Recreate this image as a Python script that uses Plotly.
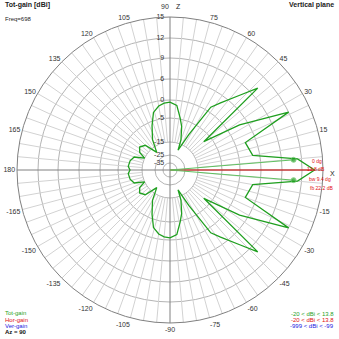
import numpy as np
import plotly.graph_objects as go

# ---- data (vertical-plane total gain, dBi); pattern symmetric about the horizon ----
ang_up = [0, 5, 10, 20, 26, 33, 40, 43, 47, 53, 57, 62, 68, 70, 75, 79, 84, 90, 95, 100,
          106, 112, 120, 127, 135, 143, 150, 155, 160, 167, 175, 180]
gain_up = [13.8, 11.4, 4.0, 2.9, 12.0, 3.7, -8.3, 10.2, 7.6, 4.0, 1.4, -10.0, -20.0, -13.3,
           -7.9, -4.7, -1.4, -0.6, -0.8, -1.4, -2.8, -6.7, -12.1, -19.6, -12.1, -10.8,
           -12.1, -15.0, -10.8, -9.6, -9.2, -10.0]

max_angle = 0
max_gain = 13.8
bw_angles = [4.7, -4.7]
bw_gain = [10.8, 10.8]

ring_db = [-35, -25, -15, -5, 0, 6, 9, 12, 15]
ring_labels = ["-35", "-25", "-15", "-5", "0", "6", "9", "12", "15"]
angle_ticks = list(range(0, 360, 15))
angle_labels = ["" if a in (0, 90) else str(a if a <= 180 else a - 360) for a in angle_ticks]

# ---- radial scale (4NEC2-like compressed dB scale) ----
ring_pos = [7, 15, 28, 52, 70, 91, 112, 132, 153]
R = ring_pos[-1]

def rscale(db):
    return np.interp(np.asarray(db, float), ring_db, ring_pos)

theta = ang_up + [360 - a for a in ang_up[::-1][1:]]
gain = gain_up + gain_up[::-1][1:]

GREEN = "#1f9f1f"
RED = "#e01010"
BLUE = "#2020e0"

fig = go.Figure()

# radial grid spokes every 5 deg
sp_t, sp_r = [], []
for a in range(0, 360, 5):
    if a % 90 == 0:
        continue
    sp_t += [a, a, None]
    sp_r += [ring_pos[2], R, None]
fig.add_trace(go.Scatterpolar(r=sp_r, theta=sp_t, mode="lines",
                              line=dict(color="#d2d2d2", width=1), hoverinfo="skip"))
# main axes
fig.add_trace(go.Scatterpolar(r=[R, 0, R, None, R, 0, R], theta=[0, 0, 180, None, 90, 90, 270],
                              mode="lines", line=dict(color="#808080", width=1), hoverinfo="skip"))

# radial (dB) ring labels along the vertical axis
pad = "\u00a0\u00a0\u00a0"
fig.add_trace(go.Scatterpolar(r=ring_pos, theta=[90] * len(ring_pos), mode="text",
                              text=[t + pad for t in ring_labels], textposition="middle left",
                              textfont=dict(size=7, color="#333"), hoverinfo="skip"))

# pattern
fig.add_trace(go.Scatterpolar(r=rscale(gain), theta=theta, mode="lines",
                              line=dict(color=GREEN, width=1.3)))
# max gain line
fig.add_trace(go.Scatterpolar(r=[0, rscale(max_gain)], theta=[max_angle, max_angle], mode="lines",
                              line=dict(color=RED, width=1)))
# beamwidth lines
for a, g in zip(bw_angles, bw_gain):
    fig.add_trace(go.Scatterpolar(r=[0, rscale(g)], theta=[a, a], mode="lines+markers",
                                  line=dict(color="#60c060", width=1),
                                  marker=dict(color=GREEN, size=[0, 5])))

fig.update_layout(
    width=339, height=339, margin=dict(l=0, r=0, t=0, b=0),
    paper_bgcolor="white", showlegend=False,
    font=dict(family="Liberation Sans, Arial", size=7, color="#333"),
    polar=dict(
        domain=dict(x=[17/339, 323/339], y=[1-323/339, 1-17/339]),
        bgcolor="white",
        angularaxis=dict(rotation=0, direction="counterclockwise", tickmode="array",
                         tickvals=angle_ticks, ticktext=angle_labels, showgrid=False,
                         ticks="", showline=True, linecolor="#808080", linewidth=1,
                         tickfont=dict(size=7, color="#333")),
        radialaxis=dict(range=[0, R], tickmode="array", tickvals=ring_pos,
                        showticklabels=False, showline=False, ticks="",
                        gridcolor="#b4b4b4", gridwidth=1),
    ),
)

anns = [
    dict(x=3, y=5, text="<b>Tot-gain [dBi]</b>", xanchor="left", color="#222", size=7),
    dict(x=3, y=19, text="Freq=698", xanchor="left", color="#222", size=6),
    dict(x=336, y=5, text="<b>Vertical plane</b>", xanchor="right", color="#222", size=7),
    dict(x=3, y=313, text="Tot-gain", xanchor="left", color=GREEN, size=6),
    dict(x=3, y=320, text="Hor-gain", xanchor="left", color=RED, size=6),
    dict(x=3, y=326, text="Ver-gain", xanchor="left", color=BLUE, size=6),
    dict(x=3, y=332, text="<b>Az = 90</b>", xanchor="left", color="#111", size=6),
    dict(x=336, y=314, text="-20 < dBi < 13.8", xanchor="right", color=GREEN, size=6),
    dict(x=336, y=320, text="-20 < dBi < 13.8", xanchor="right", color=RED, size=6),
    dict(x=336, y=326, text="-999 < dBi < -99", xanchor="right", color=BLUE, size=6),
    dict(x=165, y=7, text="90", xanchor="center", color="#333", size=7),
    dict(x=178, y=7, text="Z", xanchor="center", color="#222", size=7),
    dict(x=332, y=173, text="X", xanchor="center", color="#222", size=7),
    dict(x=310, y=161, text="0 dg", xanchor="left", color=RED, size=5),
    dict(x=305, y=169, text="13.8 dB", xanchor="left", color=RED, size=5),
    dict(x=307, y=179, text="bw 9.4 dg", xanchor="left", color=RED, size=5),
    dict(x=308, y=188, text="fb 22.2 dB", xanchor="left", color=RED, size=5),
]
for a in anns:
    fig.add_annotation(x=a["x"]/339, y=1-a["y"]/339, xref="paper", yref="paper",
                       text=a["text"], showarrow=False, xanchor=a["xanchor"], yanchor="middle",
                       font=dict(size=a["size"], color=a["color"]))

fig.write_html("out.html")
